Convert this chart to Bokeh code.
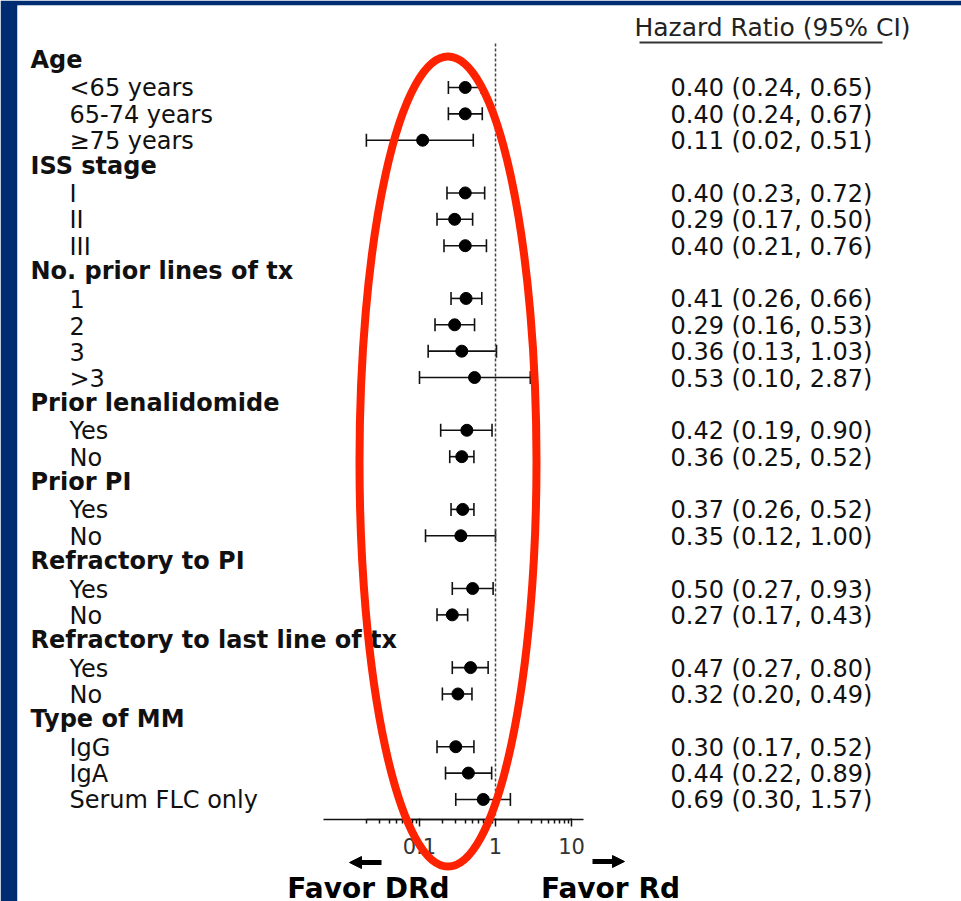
from bokeh.plotting import figure
from bokeh.models import (ColumnDataSource, Range1d, Whisker, TeeHead, Arrow,
                          NormalHead, FixedTicker, CustomJSTickFormatter, Label)
from bokeh.core.properties import value
from bokeh.embed import file_html
from bokeh.resources import INLINE

# ---------------- data ----------------
labels = ["Age", "<65 years", "65-74 years", "\u226575 years",
          "ISS stage", "I", "II", "III",
          "No. prior lines of tx", "1", "2", "3", ">3",
          "Prior lenalidomide", "Yes", "No",
          "Prior PI", "Yes", "No",
          "Refractory to PI", "Yes", "No",
          "Refractory to last line of tx", "Yes", "No",
          "Type of MM", "IgG", "IgA", "Serum FLC only"]
is_header = [True, False, False, False,
             True, False, False, False,
             True, False, False, False, False,
             True, False, False,
             True, False, False,
             True, False, False,
             True, False, False,
             True, False, False, False]
hr = [None, 0.40, 0.40, 0.11,
      None, 0.40, 0.29, 0.40,
      None, 0.41, 0.29, 0.36, 0.53,
      None, 0.42, 0.36,
      None, 0.37, 0.35,
      None, 0.50, 0.27,
      None, 0.47, 0.32,
      None, 0.30, 0.44, 0.69]
ci_low = [None, 0.24, 0.24, 0.02,
          None, 0.23, 0.17, 0.21,
          None, 0.26, 0.16, 0.13, 0.10,
          None, 0.19, 0.25,
          None, 0.26, 0.12,
          None, 0.27, 0.17,
          None, 0.27, 0.20,
          None, 0.17, 0.22, 0.30]
ci_high = [None, 0.65, 0.67, 0.51,
           None, 0.72, 0.50, 0.76,
           None, 0.66, 0.53, 1.03, 2.87,
           None, 0.90, 0.52,
           None, 0.52, 1.00,
           None, 0.93, 0.43,
           None, 0.80, 0.49,
           None, 0.52, 0.89, 1.57]
major_ticks = [0.1, 1, 10]
minor_ticks = [0.02, 0.03, 0.04, 0.05, 0.06, 0.07, 0.08, 0.09,
               0.2, 0.3, 0.4, 0.5, 0.6, 0.7, 0.8, 0.9,
               2, 3, 4, 5, 6, 7, 8, 9]
header_text = "Hazard Ratio (95% CI)"
favor_left = "Favor DRd"
favor_right = "Favor Rd"

# ---------------- layout geometry ----------------
W, H = 961, 901
LEFT, TOP = 17, 5
X1_PX, DEC_PX = 495, 76.0      # pixel of HR = 1, pixels per decade
ROW0_PX, ROW_PX = 60.6, 26.37  # pixel of first row, row pitch


def xd(px):
    return 10 ** ((px - X1_PX) / DEC_PX)


def yd(px):
    return (px - ROW0_PX) / ROW_PX


FONT_NAME = "DejaVu Sans"
FONT = value(FONT_NAME)
TXT = "#111111"

p = figure(width=W, height=H, x_axis_type="log",
           x_range=Range1d(xd(LEFT), xd(W)),
           y_range=Range1d(yd(H), yd(TOP)),
           output_backend="svg", toolbar_location=None,
           y_axis_location=None,
           min_border_left=LEFT, min_border_top=TOP,
           min_border_right=0, min_border_bottom=0,
           border_fill_color="#002D72", background_fill_color="white",
           outline_line_color=None)
p.xgrid.visible = False
p.ygrid.visible = False

rows = list(range(len(labels)))
hdr_src = ColumnDataSource(dict(
    x=[xd(30)] * sum(is_header),
    y=[r for r in rows if is_header[r]],
    t=[labels[r] for r in rows if is_header[r]]))
item_idx = [r for r in rows if not is_header[r]]
item_src = ColumnDataSource(dict(
    x=[xd(69)] * len(item_idx),
    xv=[xd(670)] * len(item_idx),
    y=item_idx,
    t=[labels[r] for r in item_idx],
    hr=[hr[r] for r in item_idx],
    lo=[ci_low[r] for r in item_idx],
    hi=[ci_high[r] for r in item_idx],
    v=["%.2f (%.2f, %.2f)" % (hr[r], ci_low[r], ci_high[r]) for r in item_idx]))

p.text(x="x", y="y", text="t", source=hdr_src, text_font=FONT,
       text_font_size="24px", text_font_style="bold", text_color=TXT,
       text_baseline="middle", text_align="left", y_offset=-1)
p.text(x="x", y="y", text="t", source=item_src, text_font=FONT,
       text_font_size="24px", text_color=TXT,
       text_baseline="middle", text_align="left", y_offset=1)
p.text(x="xv", y="y", text="v", source=item_src, text_font=FONT,
       text_font_size="24px", text_color=TXT,
       text_baseline="middle", text_align="left", y_offset=1)

# column header + underline
p.add_layout(Label(x=xd(772), y=yd(27), text=header_text, text_font=FONT_NAME,
                   text_font_size="25px", text_color="#222222",
                   text_align="center", text_baseline="middle"))
p.segment(x0=[xd(639)], x1=[xd(882)], y0=[yd(42)], y1=[yd(42)],
          line_width=2, line_color="#333333")

# reference line at HR = 1
p.segment(x0=[1], x1=[1], y0=[yd(43)], y1=[yd(815)],
          line_dash="3 2", line_width=1.5, line_color="#444444")

# confidence intervals and points
p.add_layout(Whisker(source=item_src, base="y", lower="lo", upper="hi",
                     dimension="width", line_width=1.6, line_color="#111111",
                     lower_head=TeeHead(size=13, line_width=1.6, line_color="#111111"),
                     upper_head=TeeHead(size=13, line_width=1.6, line_color="#111111")))
p.scatter(x="hr", y="y", source=item_src, size=12, color="black")

# axis
ax = p.xaxis[0]
ax.fixed_location = yd(819)
ax.bounds = (minor_ticks[0], major_ticks[-1])
ax.ticker = FixedTicker(ticks=major_ticks, minor_ticks=minor_ticks)
ax.formatter = CustomJSTickFormatter(code="return String(tick)")
ax.axis_line_color = "#111111"
ax.axis_line_width = 1.5
ax.major_tick_line_color = "#111111"
ax.major_tick_line_width = 1.5
ax.minor_tick_line_color = "#111111"
ax.minor_tick_line_width = 1.5
ax.major_tick_in = 1
ax.major_tick_out = 7
ax.minor_tick_in = 0
ax.minor_tick_out = 4
ax.major_label_text_font = FONT_NAME
ax.major_label_text_font_size = "21px"
ax.major_label_text_color = "#333333"
ax.major_label_standoff = 11
p.segment(x0=[xd(323)], x1=[xd(583)], y0=[yd(819)], y1=[yd(819)],
          line_width=1.5, line_color="#111111")

# arrows and favour labels
p.add_layout(Arrow(x_start=xd(381), x_end=xd(349), y_start=yd(862), y_end=yd(862),
                   line_width=5, line_color="black",
                   end=NormalHead(size=12, fill_color="black", line_color="black")))
p.add_layout(Arrow(x_start=xd(592), x_end=xd(624), y_start=yd(861), y_end=yd(861),
                   line_width=5, line_color="black",
                   end=NormalHead(size=12, fill_color="black", line_color="black")))
p.add_layout(Label(x=xd(368), y=yd(888), text=favor_left, text_font=FONT_NAME,
                   text_font_size="28px", text_font_style="bold", text_color="black",
                   text_align="center", text_baseline="middle"))
p.add_layout(Label(x=xd(610), y=yd(888), text=favor_right, text_font=FONT_NAME,
                   text_font_size="28px", text_font_style="bold", text_color="black",
                   text_align="center", text_baseline="middle"))

# highlight ellipse
p.ellipse(x=[xd(447.5)], y=[yd(461)], width=177, height=810,
          width_units="screen", height_units="screen",
          fill_color=None, line_color="#FF2200", line_width=8, level="overlay")

open("out.html", "w").write(file_html(p, INLINE))
